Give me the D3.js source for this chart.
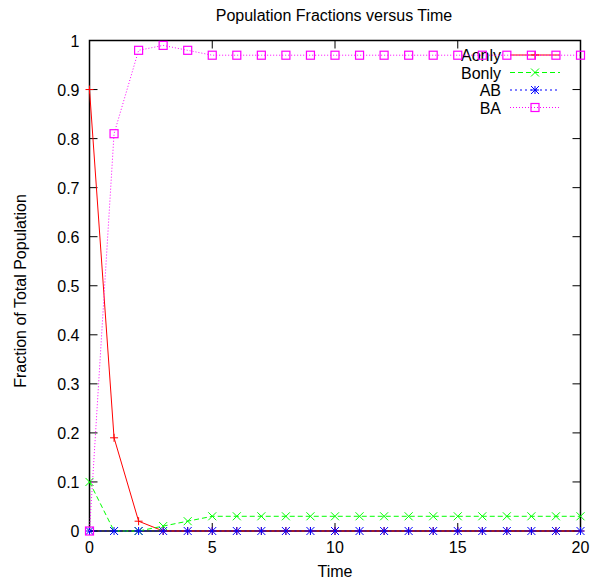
<!DOCTYPE html>
<html>
<head>
<meta charset="utf-8">
<script src="https://cdn.jsdelivr.net/npm/d3@7"></script>
<style>
  body { margin: 0; background: #fff; }
  text { font-family: "Liberation Sans", Arial, sans-serif; }
</style>
</head>
<body>
<div id="chart"></div>
<script>
"use strict";

// time steps 0..20
const time = [0,1,2,3,4,5,6,7,8,9,10,11,12,13,14,15,16,17,18,19,20];

const aonly = [0.9,0.19,0.02,0,0,0,0,0,0,0,0,0,0,0,0,0,0,0,0,0,0];
const bonly = [0.1,0,0,0.01,0.02,0.03,0.03,0.03,0.03,0.03,0.03,0.03,0.03,0.03,0.03,0.03,0.03,0.03,0.03,0.03,0.03];
const ab    = [0,0,0,0,0,0,0,0,0,0,0,0,0,0,0,0,0,0,0,0,0];
const ba    = [0,0.81,0.98,0.99,0.98,0.97,0.97,0.97,0.97,0.97,0.97,0.97,0.97,0.97,0.97,0.97,0.97,0.97,0.97,0.97,0.97];

const xTicks = [0,5,10,15,20];
const yTicks = [0,0.1,0.2,0.3,0.4,0.5,0.6,0.7,0.8,0.9,1];

const series = [
    {name: "Aonly", values: aonly, color: "#ff0000", dash: null, marker: "plus"},
    {name: "Bonly", values: bonly, color: "#00ff00", dash: "5,3", marker: "cross"},
    {name: "AB", values: ab, color: "#0000ff", dash: "2,3", marker: "star"},
    {name: "BA", values: ba, color: "#ff00ff", dash: "1,2", marker: "square"}
];

const W = 596, H = 582;
const mLeft = 89.5, mRight = 580.5, mTop = 40.5, mBottom = 531;
const fontSize = "16px";

const svg = d3.select("#chart").append("svg")
    .attr("width", W)
    .attr("height", H);

const x = d3.scaleLinear().domain([0, 20]).range([mLeft, mRight]);
const y = d3.scaleLinear().domain([0, 1]).range([mBottom, mTop]);

// tick marks (gnuplot style, inward + mirrored)
const tickLen = 8;
const ticks = svg.append("g").attr("stroke", "#000").attr("stroke-width", 1);
yTicks.forEach(function(v){
    ticks.append("line").attr("x1", mLeft).attr("x2", mLeft + tickLen).attr("y1", y(v)).attr("y2", y(v));
    ticks.append("line").attr("x1", mRight).attr("x2", mRight - tickLen).attr("y1", y(v)).attr("y2", y(v));
    svg.append("text")
        .attr("x", mLeft - 10).attr("y", y(v) + 6)
        .attr("text-anchor", "end")
        .style("font-size", fontSize)
        .text(v);
});
xTicks.forEach(function(v){
    ticks.append("line").attr("x1", x(v)).attr("x2", x(v)).attr("y1", mBottom).attr("y2", mBottom - tickLen);
    ticks.append("line").attr("x1", x(v)).attr("x2", x(v)).attr("y1", mTop).attr("y2", mTop + tickLen);
    svg.append("text")
        .attr("x", x(v)).attr("y", mBottom + 22)
        .attr("text-anchor", "middle")
        .style("font-size", fontSize)
        .text(v);
});

// frame
svg.append("rect")
    .attr("x", mLeft).attr("y", mTop)
    .attr("width", mRight - mLeft).attr("height", mBottom - mTop)
    .attr("fill", "none").attr("stroke", "#000").attr("stroke-width", 1.5);

// titles
svg.append("text")
    .attr("x", 334).attr("y", 21)
    .attr("text-anchor", "middle")
    .style("font-size", fontSize)
    .text("Population Fractions versus Time");

svg.append("text")
    .attr("x", 335).attr("y", 577)
    .attr("text-anchor", "middle")
    .style("font-size", fontSize)
    .text("Time");

svg.append("text")
    .attr("transform", "translate(26,291) rotate(-90)")
    .attr("text-anchor", "middle")
    .style("font-size", fontSize)
    .text("Fraction of Total Population");

const drawMarker = function(g, type, cx, cy, color){
    const s = 4;
    if (type === "plus") {
        g.append("path").attr("d", "M" + (cx - s) + "," + cy + "H" + (cx + s) + "M" + cx + "," + (cy - s) + "V" + (cy + s))
            .attr("stroke", color).attr("stroke-width", 1);
    } else if (type === "cross") {
        g.append("path").attr("d", "M" + (cx - s) + "," + (cy - s) + "L" + (cx + s) + "," + (cy + s) + "M" + (cx - s) + "," + (cy + s) + "L" + (cx + s) + "," + (cy - s))
            .attr("stroke", color).attr("stroke-width", 1);
    } else if (type === "star") {
        g.append("path").attr("d", "M" + (cx - s) + "," + cy + "H" + (cx + s) + "M" + cx + "," + (cy - s) + "V" + (cy + s) +
            "M" + (cx - s) + "," + (cy - s) + "L" + (cx + s) + "," + (cy + s) + "M" + (cx - s) + "," + (cy + s) + "L" + (cx + s) + "," + (cy - s))
            .attr("stroke", color).attr("stroke-width", 1);
    } else {
        g.append("rect").attr("x", cx - s).attr("y", cy - s).attr("width", 2 * s).attr("height", 2 * s)
            .attr("fill", "none").attr("stroke", color).attr("stroke-width", 1.2);
    }
};

const line = d3.line()
    .x(function(d){ return x(d[0]); })
    .y(function(d){ return y(d[1]); });

const legendY = [55, 72.5, 90, 107.5];

series.forEach(function(s, i){
    const g = svg.append("g");
    const pts = time.map(function(t, j){ return [t, s.values[j]]; });
    g.append("path")
        .attr("d", line(pts))
        .attr("fill", "none")
        .attr("stroke", s.color)
        .attr("stroke-width", 1)
        .attr("stroke-dasharray", s.dash);
    pts.forEach(function(p){ drawMarker(g, s.marker, x(p[0]), y(p[1]), s.color); });

    // legend entry
    const ly = legendY[i];
    svg.append("text")
        .attr("x", 501).attr("y", ly + 6)
        .attr("text-anchor", "end")
        .style("font-size", fontSize)
        .text(s.name);
    g.append("line")
        .attr("x1", 510).attr("x2", 560).attr("y1", ly).attr("y2", ly)
        .attr("stroke", s.color)
        .attr("stroke-width", 1)
        .attr("stroke-dasharray", s.dash);
    drawMarker(g, s.marker, 535, ly, s.color);
});
</script>
</body>
</html>
